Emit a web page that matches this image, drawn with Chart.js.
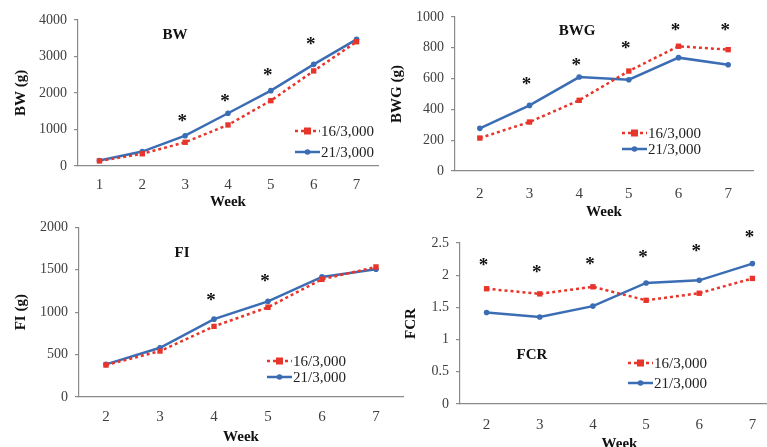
<!DOCTYPE html>
<html><head><meta charset="utf-8">
<script src="https://cdn.jsdelivr.net/npm/chart.js@4/dist/chart.umd.min.js"></script>
<style>
html,body{margin:0;padding:0;background:#fff;overflow:hidden;width:767px;height:447px;position:relative}
canvas{position:absolute}
</style></head><body>
<canvas id="c1" width="390" height="212" style="left:0;top:0"></canvas>
<canvas id="c2" width="385" height="222" style="left:382px;top:0"></canvas>
<canvas id="c3" width="410" height="235" style="left:0;top:212px"></canvas>
<canvas id="c4" width="395" height="232" style="left:390px;top:222px"></canvas>
<script>
// ---- data ----
const seriesNames = ['16/3,000', '21/3,000'];
const weeksBW = ['1','2','3','4','5','6','7'];
const weeks = ['2','3','4','5','6','7'];

const bw16 = [140, 335, 650, 1125, 1790, 2605, 3405];
const bw21 = [150, 395, 830, 1445, 2065, 2785, 3470];
const bwStars = [null, null, 1333, 1900, 2612, 3452, null];

const bwg16 = [214, 318, 459, 649, 810, 788];
const bwg21 = [277, 426, 610, 593, 736, 690];
const bwgStars = [null, 589, 714, 823, 944, 944];

const fi16 = [377, 541, 833, 1058, 1389, 1533];
const fi21 = [385, 580, 918, 1128, 1416, 1506];
const fiStars = [null, null, 1195, 1420, null, null];

const fcr16 = [1.79, 1.71, 1.82, 1.61, 1.72, 1.95];
const fcr21 = [1.42, 1.35, 1.52, 1.88, 1.92, 2.18];
const fcrStars = [2.216, 2.119, 2.242, 2.35, 2.438, 2.655];

// ---- styling ----
const RED = '#E8352B', BLUE = '#3B6DB4', AXIS = '#8a8a8a', TXT = '#404040';
const SERIF = '"Liberation Serif", "Times New Roman", serif';

function makeChart(id, o) {
  const extras = {
    id: 'extras',
    afterDatasetsDraw(chart) {
      const {ctx, scales: {x, y}} = chart;
      ctx.save();
      // significance stars
      ctx.font = 'bold 19px ' + SERIF;
      ctx.fillStyle = '#111';
      ctx.textAlign = 'center';
      ctx.textBaseline = 'alphabetic';
      o.stars.forEach((v, i) => {
        if (v == null) return;
        ctx.fillText('*', x.getPixelForValue(i) - 3, y.getPixelForValue(v) + 10);
      });
      // inner title
      ctx.font = 'bold 15px ' + SERIF;
      ctx.fillStyle = '#111';
      ctx.textBaseline = 'middle';
      ctx.fillText(o.title, o.titleX, o.titleY);
      // legend
      const lx = o.legX, w = 25;
      chart.data.datasets.forEach((ds, k) => {
        const ly = o.legY[k];
        ctx.strokeStyle = ds.borderColor;
        ctx.lineWidth = 2.5;
        ctx.setLineDash(ds.borderDash || []);
        ctx.beginPath(); ctx.moveTo(lx, ly); ctx.lineTo(lx + w, ly); ctx.stroke();
        ctx.setLineDash([]);
        ctx.fillStyle = ds.borderColor;
        if (ds.pointStyle === 'rect') ctx.fillRect(lx + w / 2 - 3.5, ly - 3.5, 7, 7);
        else { ctx.beginPath(); ctx.arc(lx + w / 2, ly, 2.8, 0, Math.PI * 2); ctx.fill(); }
        ctx.font = '15px ' + SERIF;
        ctx.fillStyle = '#222';
        ctx.textAlign = 'left';
        ctx.fillText(ds.label, lx + w + 1, ly + 1);
        ctx.textAlign = 'center';
      });
      ctx.restore();
    }
  };
  return new Chart(document.getElementById(id), {
    type: 'line',
    data: {
      labels: o.labels,
      datasets: [
        {label: seriesNames[0], data: o.a, borderColor: RED, backgroundColor: RED,
         borderWidth: 2.5, borderDash: [3, 3], pointStyle: 'rect', pointRadius: 3.8,
         pointBorderWidth: 0, tension: 0},
        {label: seriesNames[1], data: o.b, borderColor: BLUE, backgroundColor: BLUE,
         borderWidth: 2.5, pointStyle: 'circle', pointRadius: 2.8,
         pointBorderWidth: 0, tension: 0}
      ]
    },
    options: {
      responsive: false, animation: false,
      layout: {padding: o.pad},
      plugins: {legend: {display: false}, tooltip: {enabled: false}},
      scales: {
        x: {
          offset: true,
          grid: {display: false},
          border: {display: true, color: AXIS, width: 1.2},
          ticks: {color: TXT, font: {family: SERIF, size: 15}, padding: o.xTickPad, maxRotation: 0},
          title: {display: true, text: 'Week', color: '#111', font: {family: SERIF, size: 15, weight: 'bold'},
                  padding: {top: 0, bottom: o.xTitlePad}},
          afterFit: s => { s.height = o.xH; }
        },
        y: {
          min: 0, max: o.yMax,
          grid: {drawOnChartArea: false, drawTicks: true, tickLength: 4, color: AXIS, lineWidth: 1.2},
          border: {display: true, color: AXIS, width: 1.2},
          ticks: {stepSize: o.yStep, color: TXT, font: {family: SERIF, size: 14}, padding: 7,
                  callback: v => String(v)},
          title: {display: true, text: o.yTitle, color: '#111', font: {family: SERIF, size: 15, weight: 'bold'},
                  padding: {top: o.yTitlePad, bottom: 0}},
          afterFit: s => { s.width = o.yW; }
        }
      }
    },
    plugins: [extras]
  });
}

makeChart('c1', {labels: weeksBW, a: bw16, b: bw21, stars: bwStars, yMax: 4000, yStep: 500,
  yTitle: 'BW (g)', title: 'BW', titleX: 175, titleY: 35, legX: 295, legY: [131, 152],
  pad: {top: 20, right: 12, left: 0, bottom: 0}, yW: 78, xH: 46, xTickPad: 2, xTitlePad: 1, yTitlePad: 12});

makeChart('c2', {labels: weeks, a: bwg16, b: bwg21, stars: bwgStars, yMax: 1000, yStep: 200,
  yTitle: 'BWG (g)', title: 'BWG', titleX: 195, titleY: 31, legX: 240, legY: [133, 149],
  pad: {top: 17, right: 14, left: 0, bottom: 0}, yW: 73, xH: 51, xTickPad: 6, xTitlePad: 1, yTitlePad: 6});

makeChart('c3', {labels: weeks, a: fi16, b: fi21, stars: fiStars, yMax: 2000, yStep: 500,
  yTitle: 'FI (g)', title: 'FI', titleX: 182, titleY: 41, legX: 267, legY: [149, 165],
  pad: {top: 14, right: 7, left: 0, bottom: 0}, yW: 79, xH: 50, xTickPad: 3, xTitlePad: 1, yTitlePad: 12});

makeChart('c4', {labels: weeks, a: fcr16, b: fcr21, stars: fcrStars, yMax: 2.5, yStep: 0.5,
  yTitle: 'FCR', title: 'FCR', titleX: 142, titleY: 133, legX: 238, legY: [141, 161],
  pad: {top: 21, right: 6, left: 0, bottom: 0}, yW: 70, xH: 50, xTickPad: 4, xTitlePad: 1, yTitlePad: 12});
</script>
</body></html>
